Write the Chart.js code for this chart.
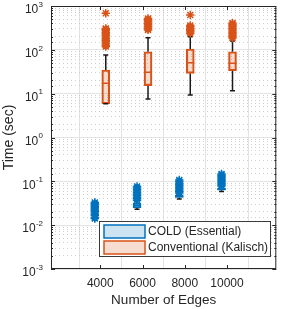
<!DOCTYPE html>
<html>
<head>
<meta charset="utf-8">
<script src="https://cdn.jsdelivr.net/npm/chart.js@4.4.1/dist/chart.umd.min.js"></script>
<style>
  html, body { margin: 0; padding: 0; background: #fff; }
  canvas { display: block; }
</style>
</head>
<body>
<canvas id="myChart" width="282" height="309"></canvas>
<script>
// values
const edges = [4000, 6000, 8000, 10000];
const seriesNames = ['COLD (Essential)', 'Conventional (Kalisch)'];
const yTicks = [1e-3, 1e-2, 1e-1, 1e0, 1e1, 1e2, 1e3];

// COLD (Essential)
const coldMin = [0.0155, 0.023, 0.0395, 0.0586];
const coldQ1 = [0.016, 0.0246, 0.043, 0.063];
const coldMed = [0.017, 0.028, 0.045, 0.066];
const coldQ3 = [0.018, 0.032, 0.048, 0.070];
const coldMax = [0.0185, 0.035, 0.050, 0.075];
const coldOut = [
  [0.0142, 0.015, 0.019, 0.0205, 0.022, 0.0235, 0.025, 0.027, 0.029, 0.031, 0.033],
  [0.037, 0.040, 0.043, 0.047, 0.051, 0.055, 0.060, 0.065, 0.070, 0.076],
  [0.054, 0.058, 0.062, 0.067, 0.072, 0.078, 0.084, 0.091, 0.099, 0.107],
  [0.078, 0.084, 0.090, 0.097, 0.104, 0.112, 0.120, 0.129, 0.138, 0.147]
];

// Conventional (Kalisch)
const kalMin = [5.9, 7.55, 9.3, 11.7];
const kalQ1 = [5.9, 15.2, 29.1, 33.4];
const kalMed = [17.2, 30.7, 50.8, 49.3];
const kalQ3 = [34.7, 90.6, 104.5, 90.6];
const kalMax = [76, 189, 200, 160];
const kalOut = [
  [119, 128, 140, 152, 165, 180, 196, 214, 232, 252, 275, 295, 307, 681],
  [285, 305, 330, 352, 378, 405, 430, 460, 490, 519],
  [236, 255, 272, 292, 312, 335, 359, 624],
  [186, 200, 216, 232, 250, 268, 290, 312, 335, 360, 385, 409]
];

const blue = '#0072BD';
const orange = '#D95319';
const blueFill = 'rgba(0,114,189,0.2)';
const orangeFill = 'rgba(217,83,25,0.2)';
const whiskerColor = '#1a1a1a';
const shift = 260; // side-by-side offset of the two groups, in x units

Chart.defaults.font.family = '"Liberation Sans", Arial, Helvetica, sans-serif';
Chart.defaults.color = '#262626';

const isDecade = v => Math.abs(Math.log10(v) - Math.round(Math.log10(v))) < 1e-6;

const coldPos = edges.map(e => e - shift);
const kalPos = edges.map(e => e + shift);

function boxData(pos, lo, hi) {
  return pos.map((x, i) => ({x: x, y: [lo[i], hi[i]]}));
}
function whiskerData(pos, mn, q1, q3, mx) {
  const pts = [];
  pos.forEach((x, i) => {
    pts.push({x: x, y: mn[i]}, {x: x, y: q1[i]}, {x: x, y: null});
    pts.push({x: x, y: q3[i]}, {x: x, y: mx[i]}, {x: x, y: null});
  });
  return pts;
}
function capData(pos, mn, mx) {
  const pts = [];
  pos.forEach((x, i) => pts.push({x: x, y: mn[i]}, {x: x, y: mx[i]}));
  return pts;
}
function pointData(pos, vals) {
  return pos.map((x, i) => ({x: x, y: vals[i]}));
}
function outlierData(pos, lists) {
  const pts = [];
  pos.forEach((x, i) => lists[i].forEach(v => pts.push({x: x, y: v})));
  return pts;
}

function boxSet(data, border, fill) {
  return {type: 'bar', data: data, backgroundColor: fill, borderColor: border,
    borderWidth: 1.5, borderSkipped: false, barThickness: 8, grouped: false, order: 3};
}
function markSet(data, style, radius, color, width, order) {
  return {type: 'line', data: data, showLine: false, pointStyle: style,
    pointRadius: radius, pointBorderColor: color, pointBackgroundColor: color,
    pointBorderWidth: width, order: order};
}

// frame, inside ticks, y labels with exponents, legend
const axisDecor = {
  id: 'axisDecor',
  afterDraw(chart) {
    const {ctx, chartArea: a, scales: {x, y}} = chart;
    ctx.save();
    ctx.strokeStyle = '#262626';
    ctx.lineWidth = 1;
    ctx.beginPath();
    y.ticks.forEach(t => {
      const py = Math.round(y.getPixelForValue(t.value)) + 0.5;
      const len = isDecade(t.value) ? 4 : 2;
      ctx.moveTo(a.left, py); ctx.lineTo(a.left + len, py);
      ctx.moveTo(a.right, py); ctx.lineTo(a.right - len, py);
    });
    x.ticks.forEach(t => {
      const px = Math.round(x.getPixelForValue(t.value)) + 0.5;
      ctx.moveTo(px, a.bottom); ctx.lineTo(px, a.bottom - 4);
      ctx.moveTo(px, a.top); ctx.lineTo(px, a.top + 4);
    });
    ctx.stroke();
    ctx.strokeRect(a.left + 0.5, a.top + 0.5, a.right - a.left - 1, a.bottom - a.top - 1);

    // y tick labels as 10^n
    ctx.fillStyle = '#262626';
    ctx.textBaseline = 'middle';
    ctx.textAlign = 'right';
    yTicks.forEach(v => {
      const py = y.getPixelForValue(v);
      const ex = String(Math.round(Math.log10(v)));
      ctx.font = '8px "Liberation Sans", Arial, sans-serif';
      const w = ctx.measureText(ex).width;
      ctx.fillText(ex, 43, py - 1.5);
      ctx.font = '12px "Liberation Sans", Arial, sans-serif';
      ctx.fillText('10', 43 - w - 0.3, py + 4);
    });

    // legend
    const lx = 99.5, ly = 221.5, lw = 171, lh = 35;
    ctx.fillStyle = '#fff';
    ctx.fillRect(lx, ly, lw, lh);
    ctx.strokeStyle = '#3a3a3a';
    ctx.strokeRect(lx, ly, lw, lh);
    const cols = [[blue, blueFill], [orange, orangeFill]];
    ctx.textAlign = 'left';
    ctx.font = '12px "Liberation Sans", Arial, sans-serif';
    seriesNames.forEach((name, i) => {
      const sy = 225 + i * 16;
      ctx.fillStyle = cols[i][1];
      ctx.fillRect(104, sy, 41, 13);
      ctx.strokeStyle = cols[i][0];
      ctx.lineWidth = 1.5;
      ctx.strokeRect(104, sy, 41, 13);
      ctx.fillStyle = '#262626';
      ctx.fillText(name, 148, sy + 7);
    });
    ctx.restore();
  }
};

const ctx = document.getElementById('myChart').getContext('2d');
const chart = new Chart(ctx, {
  type: 'bar',
  data: {
    datasets: [
      // whiskers behind everything
      {type: 'line', data: whiskerData(coldPos, coldMin, coldQ1, coldQ3, coldMax),
        borderColor: whiskerColor, borderWidth: 1.5, pointRadius: 0, spanGaps: false, order: 4},
      {type: 'line', data: whiskerData(kalPos, kalMin, kalQ1, kalQ3, kalMax),
        borderColor: whiskerColor, borderWidth: 1.5, pointRadius: 0, spanGaps: false, order: 4},
      boxSet(boxData(coldPos, coldQ1, coldQ3), blue, blueFill),
      boxSet(boxData(kalPos, kalQ1, kalQ3), orange, orangeFill),
      markSet(capData(coldPos, coldMin, coldMax), 'line', 2.5, whiskerColor, 1.5, 2),
      markSet(capData(kalPos, kalMin, kalMax), 'line', 2.5, whiskerColor, 1.5, 2),
      markSet(pointData(coldPos, coldMed), 'line', 4, blue, 1.5, 1),
      markSet(pointData(kalPos, kalMed), 'line', 4, orange, 1.5, 1),
      markSet(outlierData(coldPos, coldOut), 'star', 4.2, blue, 1.5, 0),
      markSet(outlierData(kalPos, kalOut), 'star', 4.2, orange, 1.5, 0)
    ]
  },
  options: {
    responsive: false,
    animation: false,
    layout: {padding: {top: 6, right: 1, left: 0, bottom: 0}},
    plugins: {legend: {display: false}, tooltip: {enabled: false}},
    scales: {
      x: {
        type: 'linear',
        min: 3000,
        max: 11000,
        afterBuildTicks: s => { s.ticks = edges.map(v => ({value: v})); },
        afterFit: s => { s.height = 40; },
        grid: {color: '#e3e3e3', drawTicks: false},
        border: {display: false},
        ticks: {font: {size: 12}, color: '#262626', padding: 7, maxRotation: 0,
          callback: v => String(v)},
        title: {display: true, text: 'Number of Edges', font: {size: 13.5}, color: '#262626',
          padding: {top: 0, bottom: 1}}
      },
      y: {
        type: 'logarithmic',
        min: 1e-3,
        max: 1e3,
        afterFit: s => { s.width = 51; },
        ticks: {display: false},
        grid: {
          drawTicks: false,
          color: c => isDecade(c.tick.value) ? '#e3e3e3' : '#cfcfcf'
        },
        border: {display: false, dash: c => (c.tick && !isDecade(c.tick.value)) ? [1, 3] : []},
        title: {display: true, text: 'Time (sec)', font: {size: 14}, color: '#262626',
          padding: {top: 1, bottom: 0}}
      }
    }
  },
  plugins: [axisDecor]
});
</script>
</body>
</html>
